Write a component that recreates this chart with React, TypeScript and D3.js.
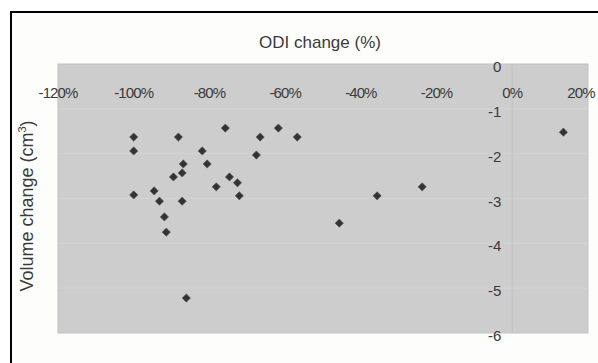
import React, { useEffect, useRef } from 'react';
import * as d3 from 'd3';

// ODI change (%) vs volume change (cm³)
const odiChange = [
  -100, -100, -100, -88.2, -81.9, -86.9, -87.2, -89.5, -94.6, -93.2,
  -87.2, -91.9, -91.4, -86.1, -80.6, -75.8, -66.6, -61.8, -56.8, -67.6,
  -74.7, -72.6, -78.2, -72.1, -45.7, -35.7, -23.8, 13.5,
];
const volumeChange = [
  -1.63, -1.94, -2.92, -1.63, -1.94, -2.23, -2.43, -2.52, -2.83, -3.06,
  -3.06, -3.41, -3.75, -5.22, -2.23, -1.43, -1.63, -1.43, -1.63, -2.03,
  -2.52, -2.65, -2.74, -2.94, -3.55, -2.94, -2.74, -1.52,
];
const xTicks = [-120, -100, -80, -60, -40, -20, 0, 20];
const yTicks = [0, -1, -2, -3, -4, -5, -6];

const W = 598;
const H = 363;

const App = () => {
  const svgRef = useRef<SVGSVGElement>(null);

  useEffect(() => {
    const svg = d3.select(svgRef.current);
    svg.selectAll('*').remove();

    const left = 58, right = 588, top = 64, bottom = 333;
    const x = d3.scaleLinear().domain([-120, 20]).range([left, right]);
    const y = d3.scaleLinear().domain([0, -6]).range([top, bottom]);

    // frame
    svg.append('rect')
      .attr('x', 11).attr('y', 12).attr('width', 620).attr('height', 400)
      .attr('fill', '#fdfdfb').attr('stroke', '#000').attr('stroke-width', 2);

    // plot area
    svg.append('rect')
      .attr('x', left).attr('y', top)
      .attr('width', right - left).attr('height', bottom - top)
      .attr('fill', '#cdcdcd').attr('stroke', '#c2c2c2');

    // faint gridlines
    svg.append('g')
      .selectAll('line')
      .data(yTicks.slice(1, -1))
      .join('line')
      .attr('x1', left).attr('x2', right)
      .attr('y1', d => y(d)).attr('y2', d => y(d))
      .attr('stroke', '#d3d3d3');

    // y axis line at x = 0
    svg.append('line')
      .attr('x1', x(0)).attr('x2', x(0)).attr('y1', top).attr('y2', bottom)
      .attr('stroke', '#c4c4c4');

    const font = 'Liberation Sans, Arial, sans-serif';

    // x tick labels (last one nudged in so it stays on the page)
    svg.append('g')
      .selectAll('text')
      .data(xTicks)
      .join('text')
      .attr('x', d => Math.min(x(d), 581))
      .attr('y', 98)
      .attr('text-anchor', 'middle')
      .attr('font-family', font)
      .attr('font-size', 15)
      .attr('letter-spacing', '-0.9px')
      .attr('fill', '#3a3a3a')
      .text(d => `${d}%`);

    // y tick labels
    svg.append('g')
      .selectAll('text')
      .data(yTicks)
      .join('text')
      .attr('x', x(0) - 11)
      .attr('y', d => y(d) + 8)
      .attr('text-anchor', 'end')
      .attr('font-family', font)
      .attr('font-size', 15)
      .attr('fill', '#3a3a3a')
      .text(d => `${d}`);

    // titles
    svg.append('text')
      .attr('x', 320).attr('y', 48)
      .attr('text-anchor', 'middle')
      .attr('font-family', font)
      .attr('font-size', 17)
      .attr('fill', '#3a3a3a')
      .text('ODI change (%)');

    const yt = svg.append('text')
      .attr('transform', 'translate(33,206) rotate(-90)')
      .attr('text-anchor', 'middle')
      .attr('font-family', font)
      .attr('font-size', 18)
      .attr('fill', '#3a3a3a');
    yt.append('tspan').text('Volume change (cm');
    yt.append('tspan').attr('font-size', 11).attr('dy', -7).text('3');
    yt.append('tspan').attr('dy', 7).text(')');

    // points
    const sym = d3.symbol().type(d3.symbolSquare).size(34);
    svg.append('g')
      .selectAll('path')
      .data(odiChange.map((v, i) => [v, volumeChange[i]]))
      .join('path')
      .attr('d', sym)
      .attr('transform', d => `translate(${x(d[0])},${y(d[1])}) rotate(45)`)
      .attr('fill', '#333')
      .attr('stroke', '#555')
      .attr('stroke-width', 0.6)
      .attr('stroke-linejoin', 'round');
  }, []);

  return (
    <svg ref={svgRef} width={W} height={H}
      style={{ position: 'absolute', left: 0, top: 0, background: '#fff' }} />
  );
};

export default App;
